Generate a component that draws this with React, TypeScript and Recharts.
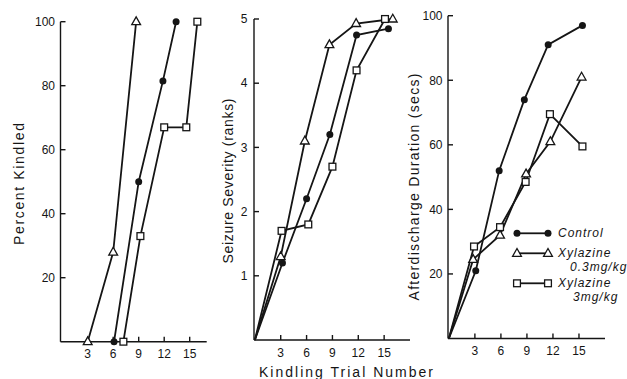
import React from 'react';
import { LineChart, Line, XAxis, YAxis, Legend } from 'recharts';

// ---- tick labels ----
const trialTicks = [3, 6, 9, 12, 15];
const percentTicks = [20, 40, 60, 80, 100];
const severityTicks = [1, 2, 3, 4, 5];
const durationTicks = [20, 40, 60, 80, 100];

const seriesNames = ['Control', 'Xylazine 0.3mg/kg', 'Xylazine 3mg/kg'];

// ---- Panel 1: Percent Kindled ----
const pkControlTrial = [6.1, 9.0, 11.85, 13.4];
const pkControlPct = [0, 50, 81.5, 100];
const pkXyl03Trial = [3.0, 6.0, 8.7];
const pkXyl03Pct = [0, 28, 100];
const pkXyl3Trial = [7.2, 9.2, 12.0, 14.6, 15.9];
const pkXyl3Pct = [0, 33, 67, 67, 100];

// ---- Panel 2: Seizure Severity (ranks) ----
const ssControlTrial = [0, 3.2, 6.0, 8.7, 11.8, 15.5];
const ssControlRank = [0, 1.2, 2.2, 3.2, 4.75, 4.85];
const ssXyl03Trial = [0, 3.0, 5.8, 8.65, 11.75, 16.0];
const ssXyl03Rank = [0, 1.3, 3.1, 4.6, 4.93, 5.0];
const ssXyl3Trial = [0, 3.1, 6.2, 9.0, 11.8, 15.1];
const ssXyl3Rank = [0, 1.7, 1.8, 2.7, 4.2, 5.0];

// ---- Panel 3: Afterdischarge Duration (secs) ----
const adControlTrial = [0, 3.1, 5.8, 8.7, 11.45, 15.4];
const adControlSecs = [0, 21, 52, 74, 91, 97];
const adXyl03Trial = [0, 2.8, 5.9, 8.9, 11.7, 15.3];
const adXyl03Secs = [0, 24.5, 32, 51, 61, 81];
const adXyl3Trial = [0, 2.9, 5.9, 8.85, 11.65, 15.4];
const adXyl3Secs = [0, 28.5, 34.5, 48.5, 69.5, 59.5];

const zip = (xs: number[], ys: number[]) => xs.map((x, i) => ({ x, y: ys[i] }));

const INK = '#151515';
const FONT = '"Liberation Sans", Arial, sans-serif';

const CircleDot = (p: any) => {
  if (p.payload && p.payload.x === 0) return <g key={p.key} />;
  return <circle key={p.key} cx={p.cx} cy={p.cy} r={3.5} fill={INK} stroke="none" />;
};
const TriangleDot = (p: any) => {
  if (p.payload && p.payload.x === 0) return <g key={p.key} />;
  const { cx, cy } = p;
  return (
    <polygon
      key={p.key}
      points={`${cx},${cy - 4.8} ${cx + 4.4},${cy + 3} ${cx - 4.4},${cy + 3}`}
      fill="#fff"
      stroke={INK}
      strokeWidth={1.3}
    />
  );
};
const SquareDot = (p: any) => {
  if (p.payload && p.payload.x === 0) return <g key={p.key} />;
  return (
    <rect key={p.key} x={p.cx - 3.4} y={p.cy - 3.4} width={6.8} height={6.8} fill="#fff" stroke={INK} strokeWidth={1.3} />
  );
};

const dotFor = [CircleDot, TriangleDot, SquareDot];

const tickStyle = { fontSize: 12, fill: INK, fontFamily: FONT };
const axisLine = { stroke: INK, strokeWidth: 1.4 };

const LegendContent = (props: any) => {
  const payload = props.payload || [];
  const rows = [11.3, 31.3, 61.3];
  return (
    <svg width={117} height={85} style={{ overflow: 'visible' }}>
      {payload.map((entry: any, i: number) => {
        const idx = seriesNames.indexOf(entry.value);
        const k = idx < 0 ? i : idx;
        const y = rows[k];
        const Dot = dotFor[k];
        const parts = String(entry.value).split(' ');
        return (
          <g key={i}>
            <line x1={7} x2={38} y1={y} y2={y} stroke={INK} strokeWidth={1.8} />
            {Dot({ cx: 7, cy: y, payload: { x: 1 }, key: 'a' })}
            {Dot({ cx: 38, cy: y, payload: { x: 1 }, key: 'b' })}
            <text x={48} y={y + 4} fontSize={12} fontStyle="italic" fontFamily={FONT} fill={INK} letterSpacing={1}>
              {parts[0]}
            </text>
            {parts[1] ? (
              <text x={k === 1 ? 60 : 63} y={y + 18} fontSize={12} fontStyle="italic" fontFamily={FONT} fill={INK} letterSpacing={1}>
                {parts[1]}
              </text>
            ) : null}
          </g>
        );
      })}
    </svg>
  );
};

const Panel = (props: any) => {
  const { left, width, margin, yWidth, xDomain, yDomain, yTicks, yTickMargin, xTickMargin, series, legend } = props;
  return (
    <div style={{ position: 'absolute', left, top: 0 }}>
      <LineChart width={width} height={379} margin={margin}>
        <XAxis
          type="number"
          dataKey="x"
          domain={xDomain}
          ticks={trialTicks}
          allowDataOverflow
          tickSize={-5}
          tickMargin={xTickMargin}
          axisLine={axisLine}
          tickLine={axisLine}
          tick={tickStyle}
          interval={0}
        />
        <YAxis
          type="number"
          dataKey="y"
          domain={yDomain}
          ticks={yTicks}
          width={yWidth}
          tickSize={-5}
          tickMargin={yTickMargin}
          axisLine={axisLine}
          tickLine={axisLine}
          tick={tickStyle}
          interval={0}
        />
        {series.map((s: any, i: number) => (
          <Line
            key={i}
            data={s.data}
            dataKey="y"
            name={seriesNames[i]}
            type="linear"
            stroke={INK}
            strokeWidth={1.8}
            dot={dotFor[i]}
            activeDot={false}
            isAnimationActive={false}
          />
        ))}
        {legend ? (
          <Legend
            layout="vertical"
            align="center"
            verticalAlign="middle"
            content={LegendContent}
            wrapperStyle={{ position: 'absolute', left: 90, top: 222, width: 117, height: 85 }}
          />
        ) : null}
      </LineChart>
    </div>
  );
};

const titleStyle: any = { fontSize: 14, fontFamily: FONT, fill: INK };

export default function App() {
  return (
    <div style={{ position: 'absolute', left: 0, top: 0, width: 627, height: 379, background: '#fff' }}>
      <Panel
        left={0}
        width={215}
        margin={{ top: 21.7, right: 8.3, bottom: 7.3, left: 0.5 }}
        yWidth={60}
        xDomain={[-0.2, 17]}
        yDomain={[0, 100]}
        yTicks={percentTicks}
        yTickMargin={10.5}
        xTickMargin={12.6}
        series={[
          { data: zip(pkControlTrial, pkControlPct) },
          { data: zip(pkXyl03Trial, pkXyl03Pct) },
          { data: zip(pkXyl3Trial, pkXyl3Pct) },
        ]}
      />
      <Panel
        left={215}
        width={205}
        margin={{ top: 19, right: 10, bottom: 9, left: 0 }}
        yWidth={39}
        xDomain={[-0.1, 18]}
        yDomain={[0, 5]}
        yTicks={severityTicks}
        yTickMargin={11.5}
        xTickMargin={13.3}
        series={[
          { data: zip(ssControlTrial, ssControlRank) },
          { data: zip(ssXyl03Trial, ssXyl03Rank) },
          { data: zip(ssXyl3Trial, ssXyl3Rank) },
        ]}
      />
      <Panel
        left={420}
        width={207}
        margin={{ top: 15.7, right: 22, bottom: 10.5, left: 0 }}
        yWidth={28}
        xDomain={[-0.1, 18]}
        yDomain={[0, 100]}
        yTicks={durationTicks}
        yTickMargin={10.5}
        xTickMargin={12.7}
        legend
        series={[
          { data: zip(adControlTrial, adControlSecs) },
          { data: zip(adXyl03Trial, adXyl03Secs) },
          { data: zip(adXyl3Trial, adXyl3Secs) },
        ]}
      />
      <svg width={627} height={379} style={{ position: 'absolute', left: 0, top: 0, pointerEvents: 'none' }}>
        <text
          {...titleStyle}
          x={0}
          y={0}
          textAnchor="middle"
          textLength={122}
          lengthAdjust="spacing"
          transform="translate(24,184) rotate(-90)"
        >
          Percent Kindled
        </text>
        <text
          {...titleStyle}
          x={0}
          y={0}
          textAnchor="middle"
          textLength={165}
          lengthAdjust="spacing"
          transform="translate(233,181) rotate(-90)"
        >
          Seizure Severity (ranks)
        </text>
        <text
          {...titleStyle}
          x={0}
          y={0}
          textAnchor="middle"
          textLength={227}
          lengthAdjust="spacing"
          transform="translate(419,187) rotate(-90)"
        >
          Afterdischarge Duration (secs)
        </text>
        <text {...titleStyle} x={346} y={376.5} textAnchor="middle" textLength={174} lengthAdjust="spacing">
          Kindling Trial Number
        </text>
      </svg>
    </div>
  );
}
